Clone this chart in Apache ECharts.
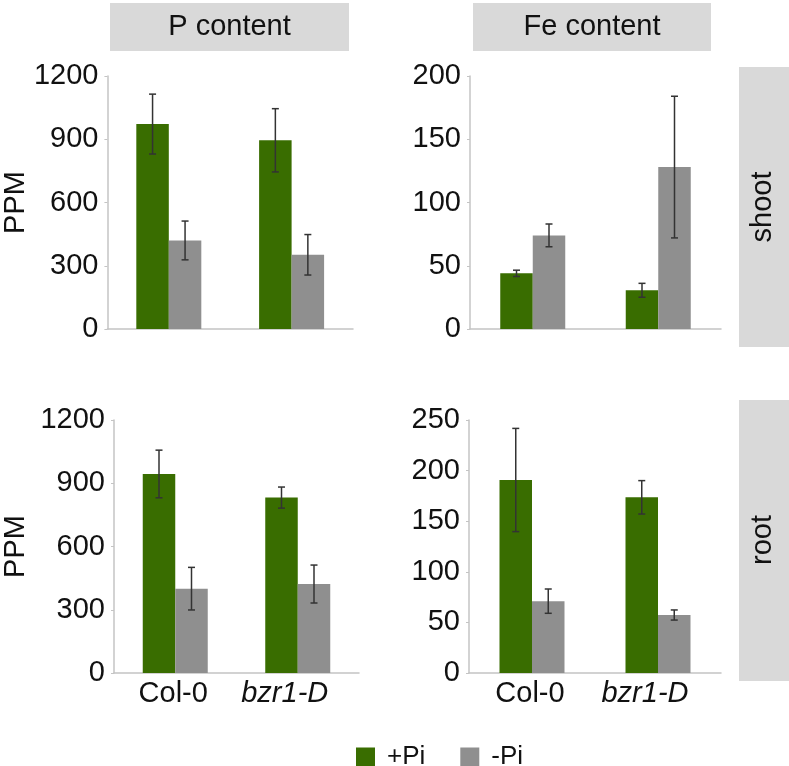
<!DOCTYPE html>
<html>
<head>
<meta charset="utf-8">
<script src="https://cdn.jsdelivr.net/npm/echarts@6/dist/echarts.min.js"></script>
<style>html,body{margin:0;padding:0;background:#fff}#c{width:789px;height:766px}</style>
</head>
<body>
<div id="c"></div>
<script>
// ---- data ----
const categories = ['Col-0', 'bzr1-D'];
const seriesNames = ['+Pi', '-Pi'];
// P content shoot
const pShootPlus = [972, 895];
const pShootPlusErr = [142, 150];
const pShootMinus = [420, 352];
const pShootMinusErr = [92, 96];
// Fe content shoot
const feShootPlus = [44, 30.6];
const feShootPlusErr = [2.5, 5.5];
const feShootMinus = [74, 128];
const feShootMinusErr = [9, 56];
// P content root
const pRootPlus = [944, 832];
const pRootPlusErr = [113, 50];
const pRootMinus = [400, 422];
const pRootMinusErr = [101, 90];
// Fe content root
const feRootPlus = [190.7, 173.6];
const feRootPlusErr = [51, 16.5];
const feRootMinus = [71, 57.3];
const feRootMinusErr = [12, 5];
// axis ticks
const pTicks = {min: 0, max: 1200, interval: 300};
const feShootTicks = {min: 0, max: 200, interval: 50};
const feRootTicks = {min: 0, max: 250, interval: 50};
const colTitles = ['P content', 'Fe content'];
const rowTitles = ['shoot', 'root'];

// ---- styling ----
const FONT = 'Liberation Sans, Arial, Helvetica, sans-serif';
const GREEN = '#396d00';
const GREY = '#8f8f8f';
const STRIP = '#d9d9d9';
const AXIS = '#c4c4c4';
const BARW = 32.5;
const FS = 29;

const grids = [
  {left: 100, top: 76, width: 253, height: 253},
  {left: 470, top: 76, width: 251, height: 253},
  {left: 107, top: 420, width: 252, height: 253},
  {left: 469, top: 420, width: 252, height: 253}
];
const panels = [
  {plus: pShootPlus, plusErr: pShootPlusErr, minus: pShootMinus, minusErr: pShootMinusErr, ticks: pTicks, name: 'PPM', nameGap: 77, xLabels: false},
  {plus: feShootPlus, plusErr: feShootPlusErr, minus: feShootMinus, minusErr: feShootMinusErr, ticks: feShootTicks, name: '', nameGap: 0, xLabels: false},
  {plus: pRootPlus, plusErr: pRootPlusErr, minus: pRootMinus, minusErr: pRootMinusErr, ticks: pTicks, name: 'PPM', nameGap: 84, xLabels: true},
  {plus: feRootPlus, plusErr: feRootPlusErr, minus: feRootMinus, minusErr: feRootMinusErr, ticks: feRootTicks, name: '', nameGap: 0, xLabels: true}
];

const xAxes = [], yAxes = [], series = [];
panels.forEach((p, i) => {
  xAxes.push({
    type: 'category', gridIndex: i, data: categories,
    axisLine: {lineStyle: {color: AXIS, width: 1.5}},
    axisTick: {show: false},
    axisLabel: {
      show: p.xLabels, interval: 0, margin: 6, fontSize: FS, fontFamily: FONT, color: '#111',
      formatter: v => v === 'bzr1-D' ? '{it|' + v + '}' : '{n|' + v + '}',
      rich: {
        it: {fontStyle: 'italic', fontSize: FS, fontFamily: FONT, color: '#111', padding: [0, 26, 0, 0]},
        n: {fontSize: FS, fontFamily: FONT, color: '#111', padding: [0, 4, 0, 0]}
      }
    }
  });
  yAxes.push({
    type: 'value', gridIndex: i, min: p.ticks.min, max: p.ticks.max, interval: p.ticks.interval,
    name: p.name, nameLocation: 'middle', nameGap: p.nameGap, nameRotate: 90,
    nameTextStyle: {fontSize: FS, fontFamily: FONT, color: '#111'},
    axisLine: {show: true, lineStyle: {color: AXIS, width: 1.5}},
    axisTick: {show: true, length: 3, lineStyle: {color: AXIS}},
    splitLine: {show: false},
    axisLabel: {margin: 9, fontSize: FS, fontFamily: FONT, color: '#111', formatter: v => String(v)}
  });
  const groups = [
    {name: seriesNames[0], vals: p.plus, errs: p.plusErr, color: GREEN, shift: -BARW / 2},
    {name: seriesNames[1], vals: p.minus, errs: p.minusErr, color: GREY, shift: BARW / 2}
  ];
  groups.forEach(g => {
    series.push({
      type: 'bar', name: g.name, xAxisIndex: i, yAxisIndex: i, data: g.vals,
      barWidth: BARW, barGap: '0%', itemStyle: {color: g.color}, silent: true
    });
  });
  groups.forEach(g => {
    series.push({
      type: 'custom', xAxisIndex: i, yAxisIndex: i, silent: true, z: 10,
      data: g.vals.map((v, k) => [k, v - g.errs[k], v + g.errs[k]]),
      renderItem: (params, api) => {
        const lo = api.coord([api.value(0), api.value(1)]);
        const hi = api.coord([api.value(0), api.value(2)]);
        const x = lo[0] + g.shift;
        const cw = 3.5;
        const st = {stroke: '#333', lineWidth: 1.5};
        return {type: 'group', children: [
          {type: 'line', shape: {x1: x, y1: lo[1], x2: x, y2: hi[1]}, style: st},
          {type: 'line', shape: {x1: x - cw, y1: lo[1], x2: x + cw, y2: lo[1]}, style: st},
          {type: 'line', shape: {x1: x - cw, y1: hi[1], x2: x + cw, y2: hi[1]}, style: st}
        ]};
      }
    });
  });
});

const graphic = [
  {type: 'rect', left: 110, top: 3, shape: {width: 239, height: 48}, style: {fill: STRIP}, silent: true},
  {type: 'text', x: 229.5, y: 27, style: {text: colTitles[0], fontSize: FS, fontFamily: FONT, fill: '#111', align: 'center', verticalAlign: 'middle'}},
  {type: 'rect', left: 473, top: 3, shape: {width: 238, height: 48}, style: {fill: STRIP}, silent: true},
  {type: 'text', x: 592, y: 27, style: {text: colTitles[1], fontSize: FS, fontFamily: FONT, fill: '#111', align: 'center', verticalAlign: 'middle'}},
  {type: 'rect', left: 739, top: 67, shape: {width: 50, height: 280}, style: {fill: STRIP}, silent: true},
  {type: 'text', x: 763, y: 207, rotation: Math.PI / 2, style: {text: rowTitles[0], fontSize: FS, fontFamily: FONT, fill: '#111', align: 'center', verticalAlign: 'middle'}},
  {type: 'rect', left: 739, top: 400, shape: {width: 50, height: 281}, style: {fill: STRIP}, silent: true},
  {type: 'text', x: 763, y: 540, rotation: Math.PI / 2, style: {text: rowTitles[1], fontSize: FS, fontFamily: FONT, fill: '#111', align: 'center', verticalAlign: 'middle'}}
];

const chart = echarts.init(document.getElementById('c'), null, {renderer: 'canvas'});
chart.setOption({
  animation: false,
  backgroundColor: '#fff',
  grid: grids,
  xAxis: xAxes,
  yAxis: yAxes,
  series: series,
  graphic: graphic,
  legend: {
    data: seriesNames, left: 356, top: 744, padding: 0, itemWidth: 19, itemHeight: 19, itemGap: 35,
    icon: 'rect', selectedMode: false,
    textStyle: {fontSize: 26, lineHeight: 19, fontFamily: FONT, color: '#111', padding: [0, 0, 0, 7]}
  }
});
</script>
</body>
</html>
